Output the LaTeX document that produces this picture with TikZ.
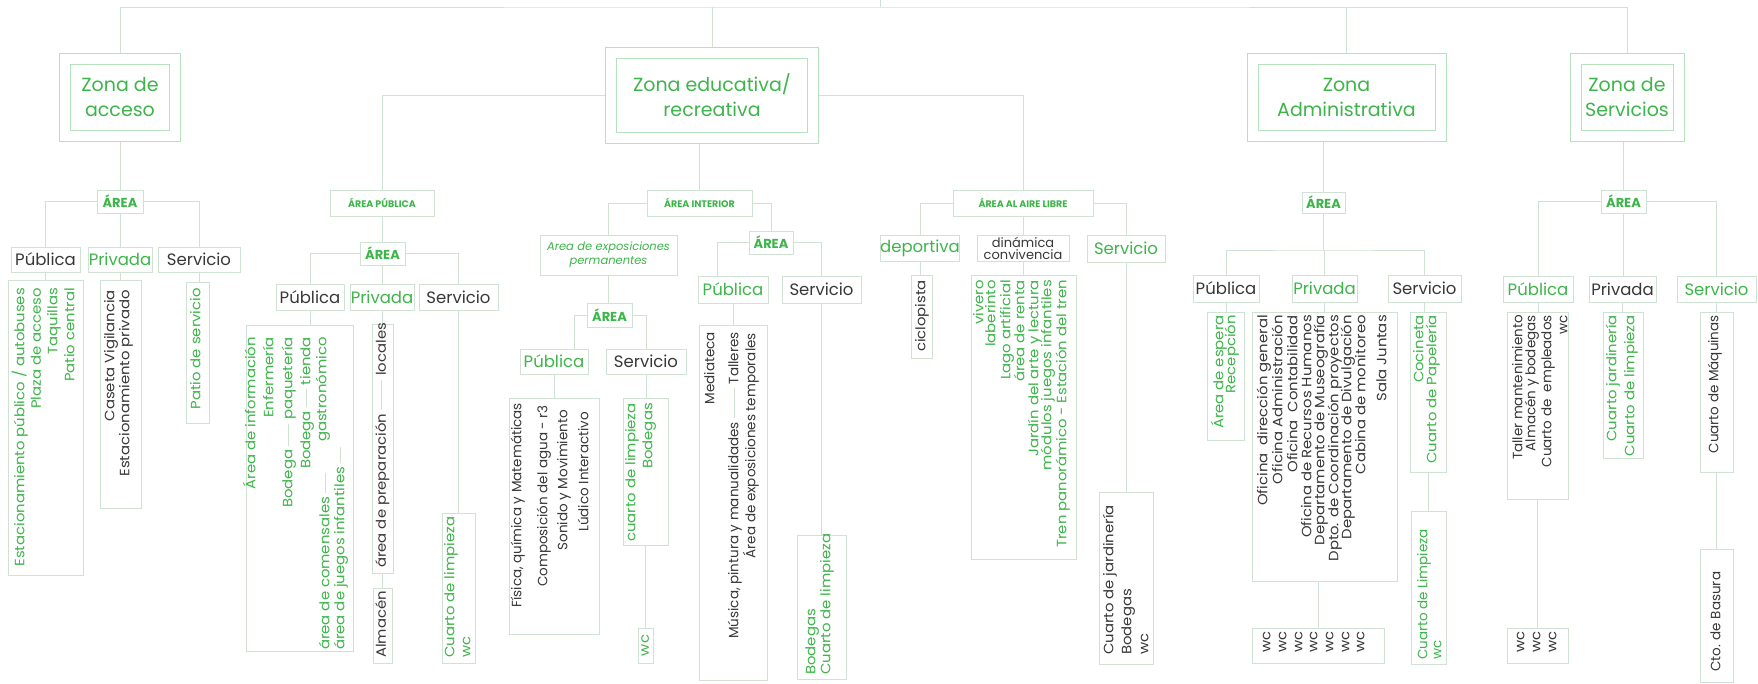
\documentclass[tikz,border=0pt]{standalone}
\usepackage{fontspec}
\setmainfont{Poppins}
\newfontfamily\widef{Poppins}[FakeStretch=1.1]
\usetikzlibrary{backgrounds}
\definecolor{gr}{HTML}{3DB54A}
\definecolor{tx}{HTML}{383838}
\definecolor{ln}{HTML}{CFE2D3}
\definecolor{zb}{HTML}{B5E2BC}
\newcount\tcn
\newcommand\dashr[1]{\hspace{4pt}\textcolor{ln}{\rule[0.28em]{#1}{0.7pt}}\hspace{4pt}}
\tikzset{
 conn/.style={draw=ln,line width=0.9pt},
 zone/.style={draw=zb,double=white,double distance=10pt,line width=1pt,text=gr,align=center,font=\fontsize{19}{25}\selectfont},
 box/.style={draw=ln,line width=0.9pt,inner sep=0pt,text=tx},
 lbl/.style={box,font=\fontsize{16.5}{18}\selectfont},
 areab/.style={box,text=gr,font=\bfseries\fontsize{13}{15}\selectfont},
 areas/.style={box,text=gr,font=\bfseries\fontsize{9.5}{11}\selectfont},
 vtxt/.style={rotate=90,inner sep=0pt,text height=9.5pt,text depth=3pt,text=tx,font=\widef\fontsize{13.5}{15}\selectfont},
 g/.style={text=gr},
 nf/.style={font=\fontsize{13.5}{15}\selectfont},
}
\newcommand\bx[7][]{\node[box,#1,minimum width={(#4-#2)*1pt},minimum height={(#5-#3)*1pt}] (#6) at ({(#2+#4)/2},{(#3+#5)/2}) {#7};}
\newcommand\txtT[4][]{\global\advance\tcn by 1\relax\node[vtxt,#1,anchor=east] (t\the\tcn) at (#2,#3) {#4};}
\newcommand\txtB[4][]{\global\advance\tcn by 1\relax\node[vtxt,#1,anchor=west] (t\the\tcn) at (#2,#3) {#4};}
\begin{document}
\begin{tikzpicture}[x=1pt,y=-1pt]
\useasboundingbox (0,0) rectangle (1758,683);
% zones
\node[zone,minimum width=109.5pt,minimum height=76.5pt] (acc) at (120,97.5) {Zona de\\acceso};
\node[zone,minimum width=202pt,minimum height=84.5pt] (edu) at (712,95.5) {Zona educativa/\\recreativa};
\node[zone,minimum width=188pt,minimum height=77pt] (adm) at (1346.5,97) {Zona\\Administrativa};
\node[zone,minimum width=103pt,minimum height=77pt] (ser) at (1627,97) {Zona de\\Servicios};
\coordinate (root) at (880,0);
\coordinate (bar) at (880,7);
% ---------- acceso
\bx[areab]{97}{190}{143}{213}{acc-area}{ÁREA}
\bx[lbl]{11}{247}{80}{272}{acc-pub}{Pública}
\bx[lbl,text=gr]{88}{247}{152}{272}{acc-pri}{Privada}
\bx[lbl]{158}{247}{240}{272}{acc-ser}{Servicio}
\bx{8}{280}{83}{575}{acc-pub-l}{}
\bx{100}{280}{141}{508}{acc-pri-l}{}
\bx{186}{282}{209}{423}{acc-ser-l}{}
\txtT[g]{21}{288}{Estacionamiento público / autobuses}
\txtT[g]{37.5}{288}{Plaza de acceso}
\txtT[g]{54}{288}{Taquillas}
\txtT[g]{71}{288}{Patio central}
\txtT{111}{290}{Caseta Vigilancia}
\txtT{126}{290}{Estacionamiento privado}
\txtT[g]{197}{288}{Patio de servicio}
% ---------- area publica
\bx[areas]{330}{190}{434}{216}{ap}{ÁREA PÚBLICA}
\bx[areab]{360}{242}{405}{265}{ap-area}{ÁREA}
\bx[lbl]{276}{284}{344}{310}{ap-pub}{Pública}
\bx[lbl,text=gr]{350}{284}{414}{310}{ap-pri}{Privada}
\bx[lbl]{419}{284}{498}{310}{ap-ser}{Servicio}
\bx{246}{325}{353}{651}{ap-pub-l}{}
\bx{372}{324}{393}{573}{ap-pri-l}{}
\bx{373}{588}{392}{663}{ap-alm}{}
\bx{442}{513}{475}{663}{ap-ser-l}{}
\txtT[g]{252}{337}{Área de información}
\txtT[g]{270}{337}{Enfermería}
\txtT[g]{289}{337}{Bodega\dashr{22pt}paquetería}
\txtT[g]{307}{337}{Bodega\dashr{18pt}tienda}
\txtT[g]{323}{337}{gastronómico}
\txtB[g]{326}{650}{área de comensales\dashr{20pt}}
\txtB[g]{341}{650}{área de juegos infantiles\dashr{16pt}}
\txtB{382.5}{568}{área de preparación\dashr{30pt}locales}
\txtB{382.5}{658}{Almacén}
\txtB[g]{451}{658}{Cuarto de limpieza}
\txtB[g]{467}{658}{wc}
% ---------- area interior
\bx[areas]{647}{190}{752}{216}{ai}{ÁREA INTERIOR}
\bx[box,text=gr,align=center,font=\itshape\fontsize{11.5}{14}\selectfont]{540}{235}{677}{275}{ex}{Area de exposiciones\\permanentes}
\bx[areab]{587}{303}{632}{327}{ex-area}{ÁREA}
\bx[lbl,text=gr]{520}{349}{588}{374}{ex-pub}{Pública}
\bx[lbl]{606}{349}{686}{374}{ex-ser}{Servicio}
\bx{509}{398}{599}{634}{ex-pub-l}{}
\bx{623}{398}{668}{545}{ex-ser-l}{}
\bx{638}{628}{653}{663}{ex-wc}{}
\coordinate (exdrop) at (574,349);
\txtT[nf]{518}{403}{Física, química y Matemáticas}
\txtT[nf]{544}{405}{Composición del agua - r3}
\txtT[nf]{564}{410}{Sonido y Movimiento}
\txtT[nf]{585}{412}{Lúdico Interactivo}
\txtT[g]{632}{403}{cuarto de limpieza}
\txtT[g]{649}{403}{Bodegas}
\node[vtxt,g] (ex-wc-t) at (ex-wc.center) {wc};
\bx[areab]{749}{231}{793}{254}{ia}{ÁREA}
\bx[lbl,text=gr]{698}{276}{768}{303}{ia-pub}{Pública}
\bx[lbl]{782}{276}{861}{303}{ia-ser}{Servicio}
\bx{699}{325}{767}{680}{ia-pub-l}{}
\bx{797}{535}{846}{679}{ia-ser-l}{}
\coordinate (iadrop) at (717,276);
\txtT[nf]{711}{332}{Mediateca}
\txtT[nf]{735}{332}{Música, pintura y manualidades\dashr{30pt}Talleres}
\txtT[nf]{752}{333}{Área de exposiciones temporales}
\txtB[g]{812}{675}{Bodegas}
\txtB[g]{827}{675}{Cuarto de limpieza}
% ---------- aire libre
\bx[areas]{953}{190}{1093}{216}{al}{ÁREA AL AIRE LIBRE}
\bx[lbl,text=gr]{883}{235}{957}{261}{al-dep}{deportiva}
\bx[box,align=center,font=\fontsize{13}{12}\selectfont]{977}{235}{1069}{261}{al-din}{dinámica\\convivencia}
\bx[lbl,text=gr]{1087}{235}{1165}{262}{al-ser}{Servicio}
\bx{911}{275}{932}{358}{al-dep-l}{}
\bx{971}{275}{1076}{559}{al-din-l}{}
\bx{1099}{492}{1153}{664}{al-ser-l}{}
\txtT{922}{280}{ciclopista}
\txtT[g]{980}{280}{vivero}
\txtT[g]{992}{280}{laberinto}
\txtT[g]{1007}{280}{Lago artificial}
\txtT[g]{1021}{280}{área de renta}
\txtT[g]{1035}{280}{Jardín del arte y lectura}
\txtT[g]{1048}{280}{módulos juegos infantiles}
\txtT[g]{1063}{280}{Tren panorámico - Estación del tren}
\txtB{1110}{655}{Cuarto de jardinería}
\txtB{1128}{655}{Bodegas}
\txtB{1145}{655}{wc}
% ---------- administrativa
\bx[areab]{1302}{192}{1345}{213}{adm-area}{ÁREA}
\coordinate (admbar) at (1323.5,250);
\bx[lbl]{1193}{275}{1259}{302}{adm-pub}{Pública}
\bx[lbl,text=gr]{1292}{275}{1357}{302}{adm-pri}{Privada}
\bx[lbl]{1388}{275}{1461}{302}{adm-ser}{Servicio}
\bx{1207}{312}{1244}{440}{adm-pub-l}{}
\bx{1252}{312}{1397}{581}{adm-pri-l}{}
\bx{1252}{628}{1384}{663}{adm-wc}{}
\bx{1410}{312}{1446}{472}{adm-ser-l}{}
\bx{1411}{511}{1446}{664}{adm-lim}{}
\txtT[g]{1220}{315}{Área de espera}
\txtT[g]{1232}{315}{Recepción}
\txtT{1264}{315}{Oficina\ \ dirección general}
\txtT{1279}{315}{Oficina Administración}
\txtT{1294}{315}{Oficina\ \ Contabilidad}
\txtT{1308}{315}{Oficina de Recursos Humanos}
\txtT{1321}{315}{Departamento de Museografía}
\txtT{1335}{315}{Dpto. de Coordinación proyectos}
\txtT{1348}{315}{Departamento de Divulgación}
\txtT{1362}{315}{Cabina de monitoreo}
\txtT{1383}{315}{Sala Juntas}
\txtB{1267}{653}{wc}
\txtB{1283}{653}{wc}
\txtB{1299}{653}{wc}
\txtB{1314}{653}{wc}
\txtB{1330}{653}{wc}
\txtB{1346}{653}{wc}
\txtB{1361}{653}{wc}
\txtT[g]{1420}{315}{Cocineta}
\txtT[g]{1433}{315}{Cuarto de Papelería}
\txtB[g,nf]{1424}{660}{Cuarto de Limpieza}
\txtB[g,nf]{1438}{660}{wc}
% ---------- servicios
\bx[areab]{1601}{190}{1646}{213}{sv-area}{ÁREA}
\bx[lbl,text=gr]{1503}{276}{1573}{302}{sv-pub}{Pública}
\bx[lbl]{1589}{276}{1656}{302}{sv-pri}{Privada}
\bx[lbl,text=gr]{1677}{276}{1756}{302}{sv-ser}{Servicio}
\bx{1507}{312}{1568}{499}{sv-pub-l}{}
\bx{1507}{628}{1568}{663}{sv-wc}{}
\bx{1603}{312}{1643}{458}{sv-pri-l}{}
\bx{1700}{312}{1733}{472}{sv-ser-l}{}
\bx{1700}{549}{1733}{682}{sv-bas}{}
\txtT[nf]{1519}{315}{Taller mantenimiento}
\txtT[nf]{1532}{315}{Almacén y bodegas}
\txtT[nf]{1548}{315}{Cuarto de\ \ empleados}
\txtT[nf]{1564}{315}{wc}
\txtB{1521}{653}{wc}
\txtB{1537}{653}{wc}
\txtB{1553}{653}{wc}
\txtT[g]{1613}{315}{Cuarto jardinería}
\txtT[g]{1631}{315}{Cuarto de limpieza}
\txtT[nf]{1715}{315}{Cuarto de Máquinas}
\txtB[nf]{1717}{672}{Cto. de Basura}
% ---------- connectors
\begin{scope}[on background layer]
\fill[white] (0,0) rectangle (1758,683);
\draw[conn] (root) -- (bar);
\draw[conn] (acc.north) |- (bar) -| (ser.north);
\draw[conn] (edu.north) -- (edu.north |- bar);
\draw[conn] (adm.north) -- (adm.north |- bar);
\draw[conn] (acc-area.north) -- (acc-area.north |- acc.south);
\draw[conn] (acc-pub.north) |- (acc-area.west);
\draw[conn] (acc-ser.north) |- (acc-area.east);
\draw[conn] (acc-area.south) -- (acc-area.south |- acc-pri.north);
\draw[conn] (acc-pub.south) -- (acc-pub.south |- acc-pub-l.north);
\draw[conn] (acc-pri.south) -- (acc-pri.south |- acc-pri-l.north);
\draw[conn] (acc-ser.south) -- (acc-ser.south |- acc-ser-l.north);
\draw[conn] (ap.north) |- (edu.west);
\draw[conn] (al.north) |- (edu.east);
\draw[conn] (ai.north) -- (ai.north |- edu.south);
\draw[conn] (ap.south) -- (ap.south |- ap-area.north);
\draw[conn] (ap-pub.north) |- (ap-area.west);
\draw[conn] (ap-ser.north) |- (ap-area.east);
\draw[conn] (ap-area.south) -- (ap-area.south |- ap-pri.north);
\draw[conn] (ap-pub.south) -- (ap-pub.south |- ap-pub-l.north);
\draw[conn] (ap-pri.south) -- (ap-pri.south |- ap-pri-l.north);
\draw[conn] (ap-pri-l.south) -- (ap-pri-l.south |- ap-alm.north);
\draw[conn] (ap-ser.south) -- (ap-ser.south |- ap-ser-l.north);
\draw[conn] (ex.north) |- (ai.west);
\draw[conn] (ia.north) |- (ai.east);
\draw[conn] (ex.south) -- (ex.south |- ex-area.north);
\draw[conn] (exdrop) |- (ex-area.west);
\draw[conn] (ex-ser.north) |- (ex-area.east);
\draw[conn] (ex-pub.south) -- (ex-pub.south |- ex-pub-l.north);
\draw[conn] (ex-ser.south) -- (ex-ser.south |- ex-ser-l.north);
\draw[conn] (ex-ser-l.south) -- (ex-ser-l.south |- ex-wc.north);
\draw[conn] (iadrop) |- (ia.west);
\draw[conn] (ia-ser.north) |- (ia.east);
\draw[conn] (ia-pub.south) -- (ia-pub.south |- ia-pub-l.north);
\draw[conn] (ia-ser.south) -- (ia-ser.south |- ia-ser-l.north);
\draw[conn] (al-dep.north) |- (al.west);
\draw[conn] (al-ser.north) |- (al.east);
\draw[conn] (al.south) -- (al.south |- al-din.north);
\draw[conn] (al-dep.south) -- (al-dep.south |- al-dep-l.north);
\draw[conn] (al-din.south) -- (al-din.south |- al-din-l.north);
\draw[conn] (al-ser.south) -- (al-ser.south |- al-ser-l.north);
\draw[conn] (adm-area.north) -- (adm-area.north |- adm.south);
\draw[conn] (adm-area.south) -- (admbar);
\draw[conn] (adm-pub.north) |- (admbar) -| (adm-ser.north);
\draw[conn] (adm-pri.north) -- (adm-pri.north |- admbar);
\draw[conn] (adm-pub.south) -- (adm-pub.south |- adm-pub-l.north);
\draw[conn] (adm-pri.south) -- (adm-pri.south |- adm-pri-l.north);
\draw[conn] (adm-wc.north) -- (adm-wc.north |- adm-pri-l.south);
\draw[conn] (adm-ser.south) -- (adm-ser.south |- adm-ser-l.north);
\draw[conn] (adm-ser-l.south) -- (adm-ser-l.south |- adm-lim.north);
\draw[conn] (sv-area.north) -- (sv-area.north |- ser.south);
\draw[conn] (sv-pub.north) |- (sv-area.west);
\draw[conn] (sv-ser.north) |- (sv-area.east);
\draw[conn] (sv-area.south) -- (sv-area.south |- sv-pri.north);
\draw[conn] (sv-pub.south) -- (sv-pub.south |- sv-pub-l.north);
\draw[conn] (sv-pub-l.south) -- (sv-pub-l.south |- sv-wc.north);
\draw[conn] (sv-pri.south) -- (sv-pri.south |- sv-pri-l.north);
\draw[conn] (sv-ser.south) -- (sv-ser.south |- sv-ser-l.north);
\draw[conn] (sv-ser-l.south) -- (sv-ser-l.south |- sv-bas.north);
\end{scope}
\end{tikzpicture}
\end{document}
